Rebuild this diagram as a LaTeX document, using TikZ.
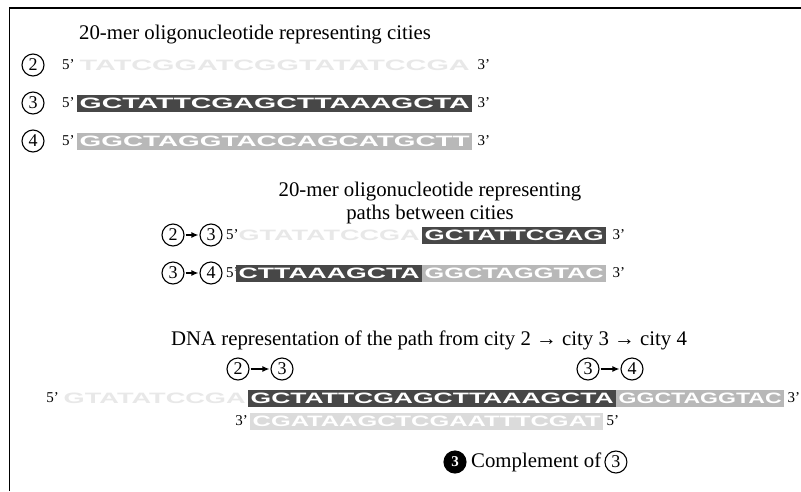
\documentclass[tikz,border=0pt]{standalone}
\usepackage{fontspec}
\setmainfont{Liberation Serif}
\setsansfont{Liberation Sans}
\usepackage{graphicx}
\usetikzlibrary{arrows.meta}
\newcommand{\segm}[6]{%
  \pgfmathsetmacro{\segw}{#4-#3}%
  \pgfmathsetmacro{\segtw}{#4-#3-5}%
  \node[#1, minimum width=\segw pt] (#2) at (#3,#5) {\resizebox{\segtw pt}{10.5pt}{\sffamily\bfseries #6}};}
\tikzset{
  seg/.style={minimum height=17pt, inner sep=0pt, anchor=west},
  darkseg/.style={seg, fill=black!72, text=white},
  lightseg/.style={seg, fill=black!28, text=white},
  compseg/.style={seg, fill=black!14, text=white},
  faintseg/.style={seg, text=black!9},
  city/.style={circle, draw, line width=1.1pt, minimum size=22pt, inner sep=0pt, font=\fontsize{18}{18}\selectfont},
  cityfill/.style={city, fill=black, text=white, font=\fontsize{15}{15}\selectfont\bfseries},
  prime/.style={font=\fontsize{15}{15}\selectfont, inner sep=0pt},
  ttl/.style={font=\fontsize{20.8}{23}\selectfont, inner sep=0pt},
  link/.style={-{Latex[length=7pt,width=6pt]}, line width=1.3pt, shorten <=1pt, shorten >=1pt},
}
\begin{document}
\begin{tikzpicture}[x=1pt,y=-1pt]
\useasboundingbox (0,0) rectangle (801,491);
\fill[white] (0,0) rectangle (801,491);
\draw[line width=1.6pt] (9.5,491) -- (9.5,8) -- (801,8);
% title 1
\node[ttl] (t1) at (255,35) {20-mer oligonucleotide representing cities};
% city 2
\node[city] (c2) at (33,65) {2};
\node[prime, anchor=west] (c2a) at (62,65) {5'};
\segm{faintseg}{s2}{77}{472}{65}{TATCGGATCGGTATATCCGA}
\node[prime, anchor=west] (c2b) at ([xshift=5pt]s2.east) {3'};
% city 3
\node[city] (c3) at (33,103) {3};
\node[prime, anchor=west] (c3a) at (62,103) {5'};
\segm{darkseg}{s3}{77}{472}{103}{GCTATTCGAGCTTAAAGCTA}
\node[prime, anchor=west] (c3b) at ([xshift=5pt]s3.east) {3'};
% city 4
\node[city] (c4) at (33,141) {4};
\node[prime, anchor=west] (c4a) at (62,141) {5'};
\segm{lightseg}{s4}{77}{472}{141}{GGCTAGGTACCAGCATGCTT}
\node[prime, anchor=west] (c4b) at ([xshift=5pt]s4.east) {3'};
% title 2
\node[ttl] (t2a) at (430,192) {20-mer oligonucleotide representing};
\node[ttl] (t2b) at (430,214) {paths between cities};
% path 2->3
\node[city] (p23a) at (173,235) {2};
\node[city] (p23b) at (211,235) {3};
\draw[link] (p23a) -- (p23b);
\node[prime, anchor=west] (p23c) at (226,235) {5'};
\segm{faintseg}{p23s1}{236}{422}{235}{GTATATCCGA}
\segm{darkseg}{p23s2}{422}{606}{235}{GCTATTCGAG}
\node[prime, anchor=west] (p23d) at ([xshift=6pt]p23s2.east) {3'};
% path 3->4
\node[city] (p34a) at (173,273) {3};
\node[city] (p34b) at (211,273) {4};
\draw[link] (p34a) -- (p34b);
\node[prime, anchor=west] (p34c) at (226,273) {5'};
\segm{darkseg}{p34s1}{236}{422}{273}{CTTAAAGCTA}
\segm{lightseg}{p34s2}{422}{606}{273}{GGCTAGGTAC}
\node[prime, anchor=west] (p34d) at ([xshift=6pt]p34s2.east) {3'};
% DNA representation
\node[ttl] (t3) at (429,340) {DNA representation of the path from city 2 → city 3 → city 4};
\node[city] (q2) at (238,369) {2};
\node[city] (q3) at (282,369) {3};
\draw[link] (q2) -- (q3);
\node[city] (r3) at (588,369) {3};
\node[city] (r4) at (632,369) {4};
\draw[link] (r3) -- (r4);
\node[prime, anchor=east] (l5) at (59,398) {5'};
\segm{faintseg}{l1}{61}{248}{398}{GTATATCCGA}
\segm{darkseg}{l2}{248}{616}{398}{GCTATTCGAGCTTAAAGCTA}
\segm{lightseg}{l3}{616}{784}{398}{GGCTAGGTAC}
\node[prime, anchor=west] (l3p) at ([xshift=3pt]l3.east) {3'};
% complement
\node[prime, anchor=east] (k3) at (248,421) {3'};
\segm{compseg}{k}{250}{603}{421}{CGATAAGCTCGAATTTCGAT}
\node[prime, anchor=west] (k5) at ([xshift=3pt]k.east) {5'};
% label
\node[cityfill] (f3) at (455,462) {3};
\node[ttl, anchor=west] (flab) at (471,462) {Complement of};
\node[city, anchor=west] (f3b) at ([xshift=3pt]flab.east) {3};
\end{tikzpicture}
\end{document}
